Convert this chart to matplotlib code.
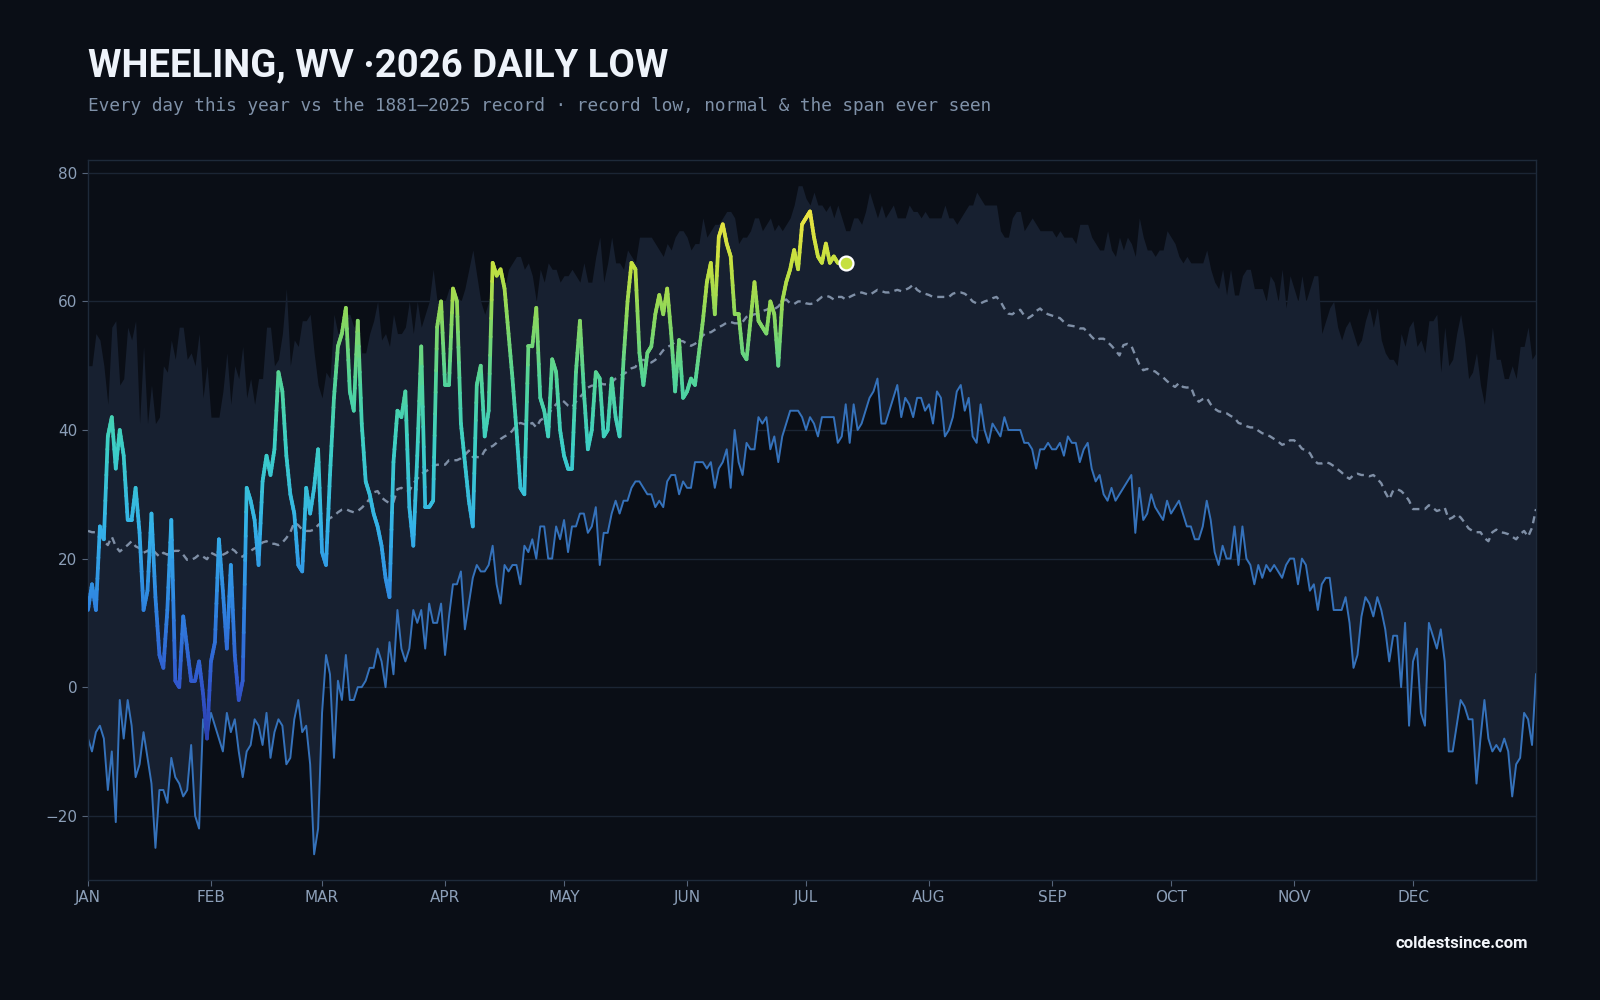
import numpy as np
import matplotlib
matplotlib.use("Agg")
import matplotlib.pyplot as plt
from matplotlib.collections import LineCollection
from matplotlib.colors import LinearSegmentedColormap, Normalize

# ---- data (°F, day-of-year 1..366) ----
record_low = [
    -8, -10, -7, -6, -8, -16, -10, -21, -2, -8, -2, -6, -14, -12, -7, -11, -15, -25, -16, -16,
    -18, -11, -14, -15, -17, -16, -9, -20, -22, -5, -8,
    -4, -6, -8, -10, -4, -7, -5, -10, -14, -10, -9, -5, -6, -9, -4,
    -11, -7, -5, -6, -12, -11, -5, -2, -7, -6, -12, -26, -22, -4, 5, 2, -11, 1, -2, 5,
    -2, -2, 0, 0, 1, 3, 3, 6, 4, 0, 7, 2, 12, 6, 4, 6, 12, 10, 12, 6, 13, 10, 10, 13, 5, 11,
    16, 16, 18, 9, 13, 17, 19, 18, 18, 19, 22, 16, 13, 19, 18, 19, 19, 16, 22, 21,
    23, 20, 25, 25, 20, 20, 25, 23, 26, 21, 25, 25, 27, 27, 24, 25, 28, 19, 24, 24,
    27, 29, 27, 29, 29, 31,
    32, 32, 31, 30, 30, 28, 29, 28, 32, 33, 33, 30, 32, 31, 31, 35, 35, 35, 34, 35,
    31, 34, 35, 37, 31, 40, 35, 33, 38, 37, 37, 42, 41, 42, 37, 39, 35, 39, 41, 43,
    43, 43, 42, 40, 42, 41,
    39, 42, 42, 42, 42, 38, 39, 44, 38, 44, 40, 41, 43, 45, 46, 48, 41, 41, 43, 45,
    47, 42, 45, 44, 42, 45, 45, 43, 44, 41, 46, 45, 39, 40, 42, 46, 47, 43, 45, 39,
    38, 44, 40, 38, 41, 40,
    39, 42, 40, 40, 40, 40, 38, 38, 37, 34, 37, 37, 38, 37, 37, 38, 36, 39, 38, 38,
    35, 37, 38, 34, 32, 33, 30, 29, 31, 29, 30, 31, 32, 33, 24, 31, 26, 27, 30, 28,
    27, 26, 29, 27, 28, 29,
    27, 25, 25, 23, 23, 25, 29, 26, 21, 19, 22, 20, 20, 25, 19, 25, 20, 19, 16, 19,
    17, 19, 18, 19, 18, 17, 19, 20, 20, 16, 20, 19, 15, 16, 12, 16, 17, 17, 12, 12,
    12, 14, 10, 3, 5,
    11, 14, 13, 11, 14, 12, 9, 4, 8, 8, 0, 10, -6, 4, 6, -4, -6, 10, 8, 6,
    9, 4, -10, -10, -6, -2, -3, -5, -5, -15, -8, -2, -8, -10, -9, -10, -8, -10, -17, -12,
    -11, -4, -5, -9, 2,
]

record_high = [
    50, 50, 55, 54, 50, 44, 56, 57, 47, 48, 56, 54, 57, 41, 53, 41, 47, 41, 42, 50,
    49, 54, 51, 56, 56, 51, 52, 50, 55, 45, 50, 42, 42, 42, 46, 52, 44, 50, 48, 53,
    45, 48, 44, 48, 48, 56,
    56, 50, 51, 55, 62, 50, 54, 53, 57, 57, 58, 52, 47, 45, 49, 48, 58, 55, 56, 58,
    58, 56, 57, 52, 52, 55, 57, 60, 54, 55, 53, 58, 55, 55, 56, 60, 55, 60, 56, 58,
    60, 65, 60, 60, 60, 62,
    62, 61, 60, 62, 65, 68, 64, 60, 58, 60, 62, 65, 64, 62, 65, 66, 67, 67, 65, 66,
    64, 60, 65, 63, 66, 65, 65, 63, 64, 64, 65, 64, 63, 66, 63, 63, 67, 70, 63, 66,
    70, 66, 66, 65, 68, 67,
    66, 70, 70, 70, 70, 69, 68, 67, 69, 68, 70, 71, 71, 70, 68, 69, 69, 73, 70, 71,
    72, 72, 73, 74, 74, 73, 69, 70, 70, 71, 73, 73, 71, 72, 73, 71, 72, 71, 72, 73,
    75, 78, 78, 76, 75, 77,
    75, 75, 74, 75, 73, 75, 73, 71, 71, 73, 73, 72, 74, 77, 75, 73, 75, 73, 74, 75,
    73, 73, 73, 75, 74, 74, 73, 74, 73, 73, 73, 73, 75, 73, 73, 72, 73, 74, 75, 75,
    77, 76, 75, 75, 75, 75,
    71, 70, 70, 73, 74, 74, 71, 72, 73, 72, 71, 71, 71, 71, 70, 71, 70, 70, 70, 69,
    72, 72, 72, 70, 69, 68, 68, 71, 68, 67, 70, 68, 70, 69, 67, 73, 70, 68, 68, 67,
    68, 68, 71, 70, 69,
    67, 66, 67, 66, 66, 66, 66, 68, 65, 63, 62, 65, 61, 65, 61, 61, 64, 65, 65, 62,
    62, 62, 60, 64, 63, 60, 65, 59, 64, 62, 60, 64, 60, 62, 64, 64, 55, 57, 59, 60,
    56, 54, 56, 57, 55, 53,
    54, 57, 59, 56, 59, 54, 52, 51, 51, 50, 55, 53, 56, 57, 53, 54, 52, 57, 57, 58,
    49, 56, 50, 51, 55, 58, 54, 48, 49, 52, 47, 44, 50, 56, 51, 51, 48, 48, 50, 48,
    53, 53, 56, 51, 52,
]

normal = [
    24.3, 24.1, 24.1, 24.0, 22.7, 22.1, 23.4, 21.9, 21.1, 21.6, 22.1, 22.7, 21.9, 21.6, 20.9, 21.2,
    21.6, 20.9, 20.3, 20.9, 20.6, 21.1, 21.2, 21.2, 20.6, 19.8, 19.8, 20.1, 20.6, 20.3, 19.9, 20.9,
    20.6, 20.3, 20.6, 20.9, 21.6, 21.2, 20.5, 20.3, 20.9, 21.2, 21.6, 21.9, 22.5, 22.7,
    22.3, 22.3, 22.1, 22.5, 23.2, 24.1, 25.6, 25.2, 24.5, 24.3, 24.3, 24.5, 25.2, 25.7, 25.7, 26.3,
    26.6, 27.2, 27.6, 27.7, 27.4, 27.2, 27.4, 27.9, 28.5, 29.3, 30.3, 30.5, 29.5, 29.0, 28.6, 28.8,
    30.8, 31.0, 30.5, 30.5, 31.7, 32.4, 33.2, 33.5, 33.9, 34.4, 34.6, 34.6, 34.6, 35.3,
    35.3, 35.3, 35.6, 36.1, 36.8, 35.8, 35.8, 35.7, 36.8, 37.3, 37.5, 38.0, 38.6, 39.0, 39.3, 39.9,
    40.8, 41.1, 40.9, 40.8, 41.1, 40.4, 41.5, 41.9, 42.4, 43.3, 44.0, 44.8, 44.4, 43.8, 43.5, 44.4,
    45.1, 45.8, 46.6, 46.9, 46.9, 47.3, 47.1, 47.1, 47.4, 48.0, 48.4, 48.7, 49.1, 49.6,
    49.8, 50.9, 50.9, 50.8, 50.5, 50.9, 51.6, 52.4, 52.9, 53.2, 53.7, 53.9, 53.8, 53.4, 53.1, 53.4,
    53.9, 54.7, 55.2, 55.2, 55.6, 56.0, 56.3, 56.7, 56.8, 56.6, 56.6, 56.8, 57.6, 57.8, 58.0, 58.1,
    58.5, 58.7, 59.0, 58.8, 59.2, 60.0, 60.3, 59.7, 59.6, 60.0, 60.0, 59.7, 59.6, 59.7,
    60.2, 60.7, 60.9, 60.7, 60.3, 60.7, 60.7, 60.3, 60.7, 61.0, 61.2, 61.4, 61.2, 61.0, 61.4, 61.8,
    61.6, 61.4, 61.4, 61.6, 61.8, 61.6, 61.8, 62.1, 62.6, 61.8, 61.4, 61.2, 61.0, 60.7, 60.7, 60.7,
    60.7, 60.7, 61.2, 61.4, 61.4, 61.2, 60.7, 60.0, 59.7, 59.7, 60.0, 60.2, 60.5, 60.7,
    60.0, 58.9, 58.1, 58.0, 58.5, 58.7, 57.8, 57.4, 57.8, 58.5, 58.9, 58.3, 58.0, 57.8, 57.6, 57.4,
    56.8, 56.3, 56.2, 56.1, 55.8, 55.8, 55.2, 54.5, 53.9, 54.2, 54.2, 53.7, 53.1, 52.4, 51.6, 53.2,
    53.4, 53.1, 51.6, 50.2, 49.3, 49.5, 49.3, 49.1, 48.6, 48.2, 47.6, 47.1, 46.7, 47.3,
    46.7, 46.6, 46.7, 45.1, 44.4, 44.8, 45.0, 44.0, 43.3, 42.9, 42.8, 42.6, 42.2, 41.9, 41.1, 40.9,
    40.6, 40.4, 40.4, 39.9, 39.5, 39.3, 39.0, 38.6, 38.2, 37.7, 37.9, 38.4, 38.4, 37.9, 37.1, 36.8,
    36.4, 35.3, 34.8, 34.8, 35.0, 34.8, 34.4, 33.9, 33.4, 32.8, 32.4, 33.0, 33.2,
    33.0, 33.0, 32.8, 33.0, 32.4, 31.7, 30.3, 29.2, 30.6, 30.8, 30.5, 29.9, 29.0, 27.7, 27.7, 27.7,
    27.7, 28.3, 27.9, 27.4, 27.6, 27.9, 26.1, 26.4, 26.9, 26.4, 25.6, 24.7, 24.3, 24.1, 24.1, 23.2,
    22.7, 24.1, 24.5, 24.1, 24.0, 23.8, 23.4, 23.0, 23.8, 24.3, 23.4, 24.8, 27.7,
]

this_year = [
    12, 16, 12, 25, 23, 39, 42, 34, 40, 36, 26, 26, 31, 24, 12, 15, 27, 14, 5, 3,
    12, 26, 1, 0, 11, 6, 1, 1, 4, -1, -8, 4, 7, 23, 15, 6, 19, 5, -2, 1,
    31, 29, 26, 19, 32, 36,
    33, 37, 49, 46, 36, 30, 27, 19, 18, 31, 27, 31, 37, 21, 19, 33, 45, 53, 55, 59,
    46, 43, 57, 41, 32, 30, 27, 25, 22, 17, 14, 35, 43, 42, 46, 28, 22, 36, 53, 28,
    28, 29, 56, 60, 47, 47,
    62, 60, 41, 35, 29, 25, 47, 50, 39, 43, 66, 64, 65, 62, 55, 48, 40, 31, 30, 53,
    53, 59, 45, 43, 39, 51, 49, 40, 36, 34, 34, 49, 57, 46, 37, 40, 49, 48, 39, 40,
    48, 42, 39, 51, 60, 66,
    65, 52, 47, 52, 53, 58, 61, 58, 62, 55, 46, 54, 45, 46, 48, 47, 52, 57, 63, 66,
    58, 70, 72, 69, 67, 58, 58, 52, 51, 57, 63, 57, 56, 55, 60, 58, 50, 60, 63, 65,
    68, 65, 72, 73, 74, 70,
    67, 66, 69, 66, 67, 66, 66, 66,
]

month_labels = ["JAN", "FEB", "MAR", "APR", "MAY", "JUN",
                "JUL", "AUG", "SEP", "OCT", "NOV", "DEC"]
month_starts = [1, 32, 60, 91, 121, 152, 182, 213, 244, 274, 305, 335]
y_ticks = [-20, 0, 20, 40, 60, 80]

# ---- style ----
BG = "#0a0e16"
BAND = "#172030"
GRID = "#1b2534"
TXT = "#8c9fb8"
LOW_C = "#3572bb"
NORM_C = "#7f8fa6"

cmap = LinearSegmentedColormap.from_list("cold", [
    (0.00, "#2a3aa8"), (0.12, "#3157cc"), (0.26, "#2f82e0"),
    (0.41, "#34b2e8"), (0.56, "#3dcfc6"), (0.68, "#52d49a"),
    (0.80, "#8cd85c"), (0.89, "#c4e040"), (1.00, "#f0e442")])
norm = Normalize(-10, 75)

days = np.arange(1, len(record_low) + 1)
yr_days = np.arange(1, len(this_year) + 1)
yr_vals = np.array(this_year, dtype=float)

fig = plt.figure(figsize=(16, 10), dpi=100, facecolor=BG)
ax = fig.add_axes([0.055, 0.12, 0.905, 0.72])
ax.set_facecolor(BG)

for y in y_ticks:
    ax.axhline(y, color=GRID, lw=1, zorder=0)

ax.fill_between(days, record_low, record_high, color=BAND, lw=0, zorder=1)
ax.plot(days, record_low, color=LOW_C, lw=1.4, zorder=2)
ax.plot(days, normal, color=NORM_C, lw=1.7, ls=(0, (3, 2.2)), zorder=3)

# colour the 2026 line by temperature, finer pieces give a smooth gradient
k = 8
segs, cols = [], []
for i in range(len(yr_vals) - 1):
    t = np.linspace(0, 1, k + 1)
    xs = yr_days[i] + t
    ys = yr_vals[i] + (yr_vals[i + 1] - yr_vals[i]) * t
    for j in range(k):
        segs.append([(xs[j], ys[j]), (xs[j + 1], ys[j + 1])])
        cols.append((ys[j] + ys[j + 1]) / 2)
lc = LineCollection(segs, cmap=cmap, norm=norm, linewidths=2.7,
                    capstyle="round", joinstyle="round", zorder=4)
lc.set_array(np.array(cols))
ax.add_collection(lc)

ax.plot(yr_days[-1], yr_vals[-1], "o", ms=10, mfc=cmap(norm(yr_vals[-1])),
        mec="white", mew=1.6, zorder=5)

ax.set_xlim(1, 366)
ax.set_ylim(-30, 82)
ax.set_xticks(month_starts)
ax.set_xticklabels(month_labels)
ax.set_yticks(y_ticks)
ax.tick_params(colors=TXT, labelsize=11, length=4, color="#56657a", pad=3.5)
for s in ax.spines.values():
    s.set_color("#1e2a3a")
    s.set_linewidth(1)

fig.text(0.055, 0.9235, "WHEELING, WV \u00b72026 DAILY LOW",
         family=["Liberation Sans Narrow", "Roboto", "DejaVu Sans"],
         weight="bold", size=27.5, color="#eef3fa", va="baseline")
fig.text(0.055, 0.889,
         "Every day this year vs the 1881\u20132025 record \u00b7 record low, normal & the span ever seen",
         family="DejaVu Sans Mono", size=12.8, color="#7f91a8", va="baseline")
fig.text(0.955, 0.056, "coldestsince.com", family=["Roboto", "DejaVu Sans"],
         weight="bold", size=12, color="#f2f5fa", ha="right", va="center")

fig.savefig("out.png", dpi=100, facecolor=BG)
